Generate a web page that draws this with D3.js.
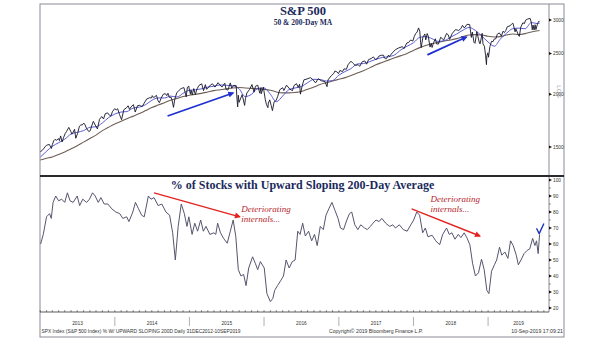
<!DOCTYPE html>
<html>
<head>
<meta charset="utf-8">
<script src="https://cdn.jsdelivr.net/npm/d3@7"></script>
<style>
  html, body { margin: 0; padding: 0; background: #fff; }
  svg { display: block; }
</style>
</head>
<body>
<svg id="chart" width="605" height="341"></svg>
<script>
// ---- S&P 500 closing levels (date, close) ----
const spxClose = [
  ["2013-01-02",1462],["2013-01-11",1472],["2013-01-18",1486],["2013-01-25",1503],["2013-02-01",1513],["2013-02-08",1518],
  ["2013-02-15",1520],["2013-02-25",1488],["2013-03-01",1518],["2013-03-08",1551],["2013-03-14",1563],["2013-03-22",1556],
  ["2013-04-02",1570],["2013-04-05",1553],["2013-04-11",1593],["2013-04-18",1541],["2013-04-26",1582],["2013-05-03",1614],
  ["2013-05-10",1633],["2013-05-21",1669],["2013-05-31",1631],["2013-06-05",1608],["2013-06-11",1626],["2013-06-18",1652],
  ["2013-06-24",1573],["2013-07-03",1615],["2013-07-12",1680],["2013-07-19",1692],["2013-07-26",1692],["2013-08-02",1709],
  ["2013-08-09",1691],["2013-08-15",1661],["2013-08-27",1631],["2013-09-03",1640],["2013-09-10",1683],["2013-09-18",1725],
  ["2013-09-27",1691],["2013-10-08",1655],["2013-10-18",1744],["2013-10-29",1771],["2013-11-07",1748],["2013-11-15",1798],
  ["2013-11-27",1807],["2013-12-05",1785],["2013-12-13",1775],["2013-12-20",1818],["2013-12-31",1848],
  ["2014-01-08",1837],["2014-01-15",1848],["2014-01-24",1790],["2014-02-03",1741],["2014-02-14",1838],["2014-02-28",1859],
  ["2014-03-07",1878],["2014-03-14",1841],["2014-03-21",1866],["2014-04-02",1890],["2014-04-11",1815],["2014-04-22",1879],
  ["2014-05-01",1883],["2014-05-07",1878],["2014-05-15",1870],["2014-05-23",1900],["2014-06-06",1949],["2014-06-20",1962],
  ["2014-06-30",1960],["2014-07-03",1985],["2014-07-10",1964],["2014-07-24",1988],["2014-07-31",1931],["2014-08-07",1910],
  ["2014-08-15",1955],["2014-08-26",2000],["2014-09-05",2007],["2014-09-12",1985],["2014-09-18",2011],["2014-09-25",1966],
  ["2014-10-03",1968],["2014-10-09",1928],["2014-10-15",1862],["2014-10-21",1941],["2014-10-31",2018],["2014-11-07",2032],
  ["2014-11-21",2064],["2014-11-28",2068],["2014-12-05",2075],["2014-12-16",1972],["2014-12-22",2078],["2014-12-29",2090],
  ["2014-12-31",2059],
  ["2015-01-06",2002],["2015-01-09",2045],["2015-01-15",1992],["2015-01-22",2063],["2015-01-30",1995],["2015-02-06",2055],
  ["2015-02-17",2100],["2015-03-02",2117],["2015-03-11",2040],["2015-03-20",2108],["2015-03-26",2056],["2015-04-06",2080],
  ["2015-04-15",2106],["2015-04-24",2117],["2015-05-06",2080],["2015-05-21",2131],["2015-05-29",2107],["2015-06-09",2080],
  ["2015-06-23",2124],["2015-06-29",2057],["2015-07-08",2046],["2015-07-20",2128],["2015-07-27",2068],["2015-08-05",2100],
  ["2015-08-18",2096],["2015-08-21",1971],["2015-08-24",1893],["2015-08-25",1867],["2015-08-28",1989],["2015-09-01",1914],
  ["2015-09-16",1996],["2015-09-28",1882],["2015-10-02",1951],["2015-10-09",2014],["2015-10-22",2053],["2015-11-03",2109],
  ["2015-11-13",2023],["2015-11-20",2089],["2015-12-01",2102],["2015-12-11",2012],["2015-12-17",2073],["2015-12-18",2005],
  ["2015-12-29",2078],["2015-12-31",2044],
  ["2016-01-07",1943],["2016-01-13",1890],["2016-01-20",1859],["2016-01-22",1906],["2016-01-29",1940],["2016-02-05",1880],
  ["2016-02-11",1829],["2016-02-19",1917],["2016-02-29",1932],["2016-03-08",1979],["2016-03-18",2050],["2016-04-01",2073],
  ["2016-04-07",2041],["2016-04-20",2102],["2016-05-06",2057],["2016-05-19",2040],["2016-05-27",2099],["2016-06-08",2119],
  ["2016-06-16",2077],["2016-06-23",2113],["2016-06-27",2001],["2016-07-05",2089],["2016-07-14",2164],["2016-07-29",2174],
  ["2016-08-15",2190],["2016-08-26",2169],["2016-09-09",2128],["2016-09-22",2177],["2016-10-07",2153],["2016-10-25",2143],
  ["2016-11-04",2085],["2016-11-09",2163],["2016-11-25",2214],["2016-12-07",2241],["2016-12-13",2271],["2016-12-22",2261],
  ["2016-12-30",2239],
  ["2017-01-06",2277],["2017-01-19",2264],["2017-01-26",2297],["2017-02-07",2293],["2017-02-15",2350],["2017-03-01",2396],
  ["2017-03-10",2372],["2017-03-21",2344],["2017-03-27",2342],["2017-04-05",2352],["2017-04-13",2329],["2017-04-25",2388],
  ["2017-05-08",2399],["2017-05-17",2357],["2017-05-26",2416],["2017-06-09",2432],["2017-06-19",2453],["2017-06-29",2419],
  ["2017-07-07",2425],["2017-07-14",2459],["2017-07-27",2475],["2017-08-08",2475],["2017-08-11",2441],["2017-08-17",2430],
  ["2017-08-21",2428],["2017-09-01",2476],["2017-09-05",2457],["2017-09-19",2506],["2017-10-05",2552],["2017-10-20",2575],
  ["2017-11-08",2594],["2017-11-15",2565],["2017-11-30",2648],["2017-12-08",2652],["2017-12-18",2690],["2017-12-29",2674],
  ["2018-01-05",2743],["2018-01-12",2786],["2018-01-19",2810],["2018-01-26",2873],["2018-02-01",2822],["2018-02-05",2649],
  ["2018-02-08",2581],["2018-02-16",2732],["2018-02-26",2780],["2018-03-02",2691],["2018-03-09",2786],["2018-03-14",2750],
  ["2018-03-23",2588],["2018-03-29",2641],["2018-04-02",2582],["2018-04-10",2656],["2018-04-18",2708],["2018-04-24",2634],
  ["2018-05-03",2630],["2018-05-14",2730],["2018-05-29",2690],["2018-06-12",2787],["2018-06-20",2767],["2018-06-27",2699],
  ["2018-07-09",2784],["2018-07-25",2846],["2018-08-03",2840],["2018-08-10",2833],["2018-08-21",2863],["2018-08-29",2914],
  ["2018-09-07",2872],["2018-09-20",2931],["2018-10-03",2925],["2018-10-11",2728],["2018-10-16",2809],["2018-10-24",2656],
  ["2018-10-29",2641],["2018-11-07",2814],["2018-11-20",2641],["2018-11-23",2633],["2018-12-03",2790],["2018-12-07",2633],
  ["2018-12-14",2600],["2018-12-20",2467],["2018-12-24",2351],["2018-12-26",2468],["2018-12-31",2507],
  ["2019-01-03",2448],["2019-01-10",2597],["2019-01-18",2671],["2019-01-25",2665],["2019-01-31",2704],["2019-02-08",2708],
  ["2019-02-15",2776],["2019-02-25",2796],["2019-03-07",2749],["2019-03-15",2822],["2019-03-22",2801],["2019-03-29",2834],
  ["2019-04-05",2893],["2019-04-18",2905],["2019-04-30",2946],["2019-05-03",2946],["2019-05-13",2812],["2019-05-17",2860],
  ["2019-05-31",2752],["2019-06-03",2744],["2019-06-10",2886],["2019-06-20",2954],["2019-06-28",2942],["2019-07-03",2996],
  ["2019-07-12",3014],["2019-07-26",3026],["2019-08-01",2954],["2019-08-05",2845],["2019-08-09",2919],["2019-08-14",2840],
  ["2019-08-19",2924],["2019-08-23",2847],["2019-08-30",2927],["2019-09-05",2977],["2019-09-10",2979]
];

// ---- 50-day moving average (monthly readings) ----
const spxMa50 = [
  ["2013-01-02",1420],["2013-02-01",1465],["2013-03-01",1505],["2013-04-01",1535],["2013-05-01",1565],["2013-06-01",1610],
  ["2013-07-01",1625],["2013-08-01",1640],["2013-09-01",1670],["2013-10-01",1675],["2013-11-01",1710],["2013-12-01",1760],
  ["2014-01-01",1795],["2014-02-01",1815],["2014-03-01",1820],["2014-04-01",1855],["2014-05-01",1865],["2014-06-01",1890],
  ["2014-07-01",1935],["2014-08-01",1960],["2014-09-01",1960],["2014-10-01",1980],["2014-11-01",1970],["2014-12-01",2010],
  ["2015-01-01",2045],["2015-02-01",2050],["2015-03-01",2060],["2015-04-01",2080],["2015-05-01",2090],["2015-06-01",2105],
  ["2015-07-01",2100],["2015-08-01",2095],["2015-09-01",2060],["2015-10-01",1975],["2015-11-01",2000],["2015-12-01",2065],
  ["2016-01-01",2070],["2016-02-01",2000],["2016-03-01",1920],["2016-04-01",1980],["2016-05-01",2050],["2016-06-01",2070],
  ["2016-07-01",2085],["2016-08-01",2130],["2016-09-01",2170],["2016-10-01",2168],["2016-11-01",2150],["2016-12-01",2155],
  ["2017-01-01",2220],["2017-02-01",2265],["2017-03-01",2300],["2017-04-01",2360],["2017-05-01",2365],["2017-06-01",2390],
  ["2017-07-01",2420],["2017-08-01",2445],["2017-09-01",2455],["2017-10-01",2480],["2017-11-01",2550],["2017-12-01",2600],
  ["2018-01-01",2650],["2018-02-01",2730],["2018-03-01",2740],["2018-04-01",2710],["2018-05-01",2670],["2018-06-01",2680],
  ["2018-07-01",2730],["2018-08-01",2780],["2018-09-01",2840],["2018-10-01",2880],["2018-11-01",2830],["2018-12-01",2750],
  ["2019-01-01",2660],["2019-02-01",2600],["2019-03-01",2700],["2019-04-01",2790],["2019-05-01",2860],["2019-06-01",2870],
  ["2019-07-01",2860],["2019-08-01",2960],["2019-09-01",2940],["2019-09-10",2950]
];

// ---- 200-day moving average (monthly readings) ----
const spxMa200 = [
  ["2013-01-02",1397],["2013-02-01",1410],["2013-03-01",1420],["2013-04-01",1440],["2013-05-01",1460],["2013-06-01",1485],
  ["2013-07-01",1510],["2013-08-01",1540],["2013-09-01",1570],["2013-10-01",1600],["2013-11-01",1640],["2013-12-01",1670],
  ["2014-01-01",1700],["2014-02-01",1725],["2014-03-01",1750],["2014-04-01",1775],["2014-05-01",1800],["2014-06-01",1830],
  ["2014-07-01",1860],["2014-08-01",1885],["2014-09-01",1910],["2014-10-01",1935],["2014-11-01",1955],["2014-12-01",1975],
  ["2015-01-01",1990],["2015-02-01",2000],["2015-03-01",2010],["2015-04-01",2025],["2015-05-01",2040],["2015-06-01",2050],
  ["2015-07-01",2060],["2015-08-01",2070],["2015-09-01",2075],["2015-10-01",2070],["2015-11-01",2065],["2015-12-01",2060],
  ["2016-01-01",2055],["2016-02-01",2045],["2016-03-01",2025],["2016-04-01",2015],["2016-05-01",2015],["2016-06-01",2020],
  ["2016-07-01",2030],["2016-08-01",2055],["2016-09-01",2080],["2016-10-01",2110],["2016-11-01",2130],["2016-12-01",2150],
  ["2017-01-01",2170],["2017-02-01",2190],["2017-03-01",2215],["2017-04-01",2245],["2017-05-01",2275],["2017-06-01",2310],
  ["2017-07-01",2350],["2017-08-01",2380],["2017-09-01",2410],["2017-10-01",2440],["2017-11-01",2470],["2017-12-01",2500],
  ["2018-01-01",2540],["2018-02-01",2580],["2018-03-01",2610],["2018-04-01",2635],["2018-05-01",2655],["2018-06-01",2675],
  ["2018-07-01",2690],["2018-08-01",2710],["2018-09-01",2740],["2018-10-01",2765],["2018-11-01",2770],["2018-12-01",2765],
  ["2019-01-01",2745],["2019-02-01",2735],["2019-03-01",2740],["2019-04-01",2765],["2019-05-01",2780],["2019-06-01",2770],
  ["2019-07-01",2785],["2019-08-01",2810],["2019-09-10",2832]
];

// ---- % of S&P 500 members with an upward sloping 200-day average ----
const pctUpward = [
  ["2013-01-03",60],["2013-01-16",66],["2013-02-01",77],["2013-02-16",79],["2013-02-24",76],["2013-03-05",86],
  ["2013-03-18",90],["2013-04-01",87],["2013-04-16",88],["2013-05-01",86],["2013-05-14",92],["2013-05-27",87],
  ["2013-06-11",86],["2013-07-01",90],["2013-07-13",84],["2013-07-28",88],["2013-08-16",86],["2013-08-30",88],
  ["2013-09-14",92],["2013-09-27",90],["2013-10-12",86],["2013-10-25",89],["2013-11-10",85],["2013-11-28",85],
  ["2013-12-17",82],["2014-01-06",80],["2014-01-25",79],["2014-02-09",76],["2014-02-28",77],["2014-03-11",74],
  ["2014-03-30",80],["2014-04-12",86],["2014-04-27",82],["2014-05-12",78],["2014-05-25",77],["2014-06-14",90],
  ["2014-06-27",88],["2014-07-12",89],["2014-08-01",84],["2014-08-19",85],["2014-09-08",80],["2014-09-26",78],
  ["2014-10-11",67],["2014-10-24",50],["2014-11-07",71],["2014-11-22",85],["2014-12-07",79],["2014-12-20",71],
  ["2014-12-29",77],["2015-01-14",66],["2015-01-27",73],["2015-02-10",68],["2015-02-25",75],["2015-03-10",68],
  ["2015-03-23",71],["2015-04-11",66],["2015-05-01",67],["2015-05-10",66],["2015-05-19",73],["2015-06-02",67],
  ["2015-06-17",63.5],["2015-07-05",60.5],["2015-07-20",68],["2015-08-03",75],["2015-08-16",64.5],["2015-08-28",44],
  ["2015-09-10",40],["2015-09-23",41],["2015-10-05",34],["2015-10-18",45],["2015-11-06",52],["2015-11-19",48],
  ["2015-12-01",44],["2015-12-14",49],["2016-01-02",45],["2016-01-15",29],["2016-02-01",24],["2016-02-13",26],
  ["2016-02-22",31],["2016-03-07",34],["2016-03-22",37],["2016-04-05",40],["2016-04-18",50],["2016-05-03",45],
  ["2016-05-18",49],["2016-06-01",50],["2016-06-14",68],["2016-06-25",66],["2016-07-08",73],["2016-07-21",65],
  ["2016-08-06",68],["2016-08-21",62],["2016-09-04",66],["2016-09-17",59],["2016-10-02",71],["2016-10-17",69],
  ["2016-10-30",78],["2016-11-13",82],["2016-11-28",86],["2016-12-13",81],["2016-12-28",76],["2017-01-09",70],
  ["2017-01-24",69],["2017-02-09",75],["2017-02-22",79],["2017-03-05",80],["2017-03-20",72],["2017-04-04",69],
  ["2017-04-18",72],["2017-05-07",70],["2017-05-20",69],["2017-06-04",71],["2017-06-17",73],["2017-07-02",75],
  ["2017-07-17",74],["2017-07-30",76],["2017-08-18",73],["2017-09-07",71],["2017-09-22",72],["2017-10-05",70],
  ["2017-10-24",72],["2017-11-12",69],["2017-12-01",68],["2017-12-19",72],["2018-01-02",75],["2018-01-17",80],
  ["2018-01-31",78],["2018-02-15",67],["2018-02-28",70],["2018-03-13",64.5],["2018-04-02",65.5],["2018-04-20",62],
  ["2018-05-09",59.5],["2018-05-24",66],["2018-06-12",70],["2018-06-25",66],["2018-07-08",67],["2018-07-23",63],
  ["2018-08-08",66],["2018-08-21",64],["2018-09-06",67],["2018-09-19",64],["2018-10-04",59.5],["2018-10-17",48],
  ["2018-10-31",40],["2018-11-15",42],["2018-11-30",50.5],["2018-12-13",44],["2018-12-26",31],["2019-01-05",29],
  ["2019-01-18",43],["2019-02-01",47],["2019-02-12",50],["2019-02-26",58],["2019-03-09",53],["2019-03-24",55],
  ["2019-04-08",51],["2019-04-21",62],["2019-05-04",59],["2019-05-19",53],["2019-05-29",47],["2019-06-11",50],
  ["2019-06-26",54],["2019-07-11",56],["2019-07-24",57],["2019-08-07",63.5],["2019-08-18",59],["2019-08-26",62],
  ["2019-09-03",54],["2019-09-10",66]
];

// ---- axis ticks ----
const spxTicks = [1500, 2000, 2500, 3000];
const pctTicks = [20, 30, 40, 50, 60, 70, 80, 90, 100];
const yearLabels = ["2013", "2014", "2015", "2016", "2017", "2018", "2019"];

const parse = d3.timeParse("%Y-%m-%d");

const svg = d3.select("#chart");

// frame geometry
const L = 40, R = 564, PR = 549, T = 4, B = 337;
const SPLIT = 176, AXIS_Y = 312;

const x = d3.scaleTime()
  .domain([parse("2012-12-31"), parse("2019-10-26")])
  .range([L, PR]);
const yTop = d3.scaleLog().domain([1280, 3274]).range([SPLIT, T]);
const yBot = d3.scaleLinear().domain([17.5, 102.5]).range([AXIS_Y, SPLIT]);

// clip paths for the panels
const defs = svg.append("defs");
defs.append("clipPath").attr("id", "clipTop")
  .append("rect").attr("x", L).attr("y", T).attr("width", PR - L).attr("height", SPLIT - T);
defs.append("clipPath").attr("id", "clipBot")
  .append("rect").attr("x", L).attr("y", SPLIT).attr("width", PR - L).attr("height", AXIS_Y - SPLIT);

function arrowMarker(id, color, w, h) {
  defs.append("marker").attr("id", id)
    .attr("viewBox", "0 0 10 10").attr("refX", 8).attr("refY", 5)
    .attr("markerWidth", w).attr("markerHeight", h).attr("orient", "auto")
    .attr("markerUnits", "userSpaceOnUse")
    .append("path").attr("d", "M0,0 L10,5 L0,10 z").attr("fill", color);
}
arrowMarker("arrowBlue", "#1f2fd0", 7, 6);
arrowMarker("arrowRed", "#e3231f", 7, 6);

// frame
svg.append("rect").attr("x", L).attr("y", T).attr("width", R - L).attr("height", B - T)
  .attr("fill", "#fff").attr("stroke", "#8a8a96").attr("stroke-width", 1);

// right axis line
svg.append("line").attr("x1", PR).attr("x2", PR).attr("y1", T).attr("y2", AXIS_Y)
  .attr("stroke", "#8a8a96").attr("stroke-width", 1);

// ---- top panel: S&P 500 with moving averages ----
const lineTop = d3.line().x(d => x(parse(d[0]))).y(d => yTop(d[1]));
const gTop = svg.append("g").attr("clip-path", "url(#clipTop)");

gTop.append("path").datum(spxMa200)
  .attr("d", lineTop.curve(d3.curveMonotoneX))
  .attr("fill", "none").attr("stroke", "#6e5e55").attr("stroke-width", 1.1);
gTop.append("path").datum(spxMa50)
  .attr("d", lineTop.curve(d3.curveMonotoneX))
  .attr("fill", "none").attr("stroke", "#4a4ad0").attr("stroke-width", 0.9);
gTop.append("path").datum(spxClose)
  .attr("d", lineTop.curve(d3.curveLinear))
  .attr("fill", "none").attr("stroke", "#15152a").attr("stroke-width", 0.9);

// ---- bottom panel: breadth line ----
const lineBot = d3.line().x(d => x(parse(d[0]))).y(d => yBot(d[1]));
svg.append("g").attr("clip-path", "url(#clipBot)")
  .append("path").datum(pctUpward)
  .attr("d", lineBot)
  .attr("fill", "none").attr("stroke", "#55556e").attr("stroke-width", 1);

// panel separator
svg.append("line").attr("x1", L).attr("x2", R).attr("y1", SPLIT).attr("y2", SPLIT)
  .attr("stroke", "#2a2a2e").attr("stroke-width", 2);

// ---- right-hand value axes ----
const tickFont = "'Liberation Sans', Arial, sans-serif";
function rightAxis(scale, ticks, minor) {
  const g = svg.append("g");
  g.selectAll("path.tk").data(ticks).join("path")
    .attr("d", d => `M${PR},${scale(d) - 1.5} L${PR + 3},${scale(d)} L${PR},${scale(d) + 1.5} z`)
    .attr("fill", "#111");
  g.selectAll("text").data(ticks).join("text")
    .attr("x", PR + 4).attr("y", d => scale(d) + 1.7)
    .attr("font-family", tickFont).attr("font-size", 4.8).attr("fill", "#333")
    .text(d => d);
  if (minor) {
    g.selectAll("line.mn").data(minor).join("line")
      .attr("x1", PR).attr("x2", PR + 1.6)
      .attr("y1", d => scale(d)).attr("y2", d => scale(d))
      .attr("stroke", "#222").attr("stroke-width", 0.6);
  }
}
rightAxis(yTop, spxTicks, null);
rightAxis(yBot, pctTicks, d3.range(25, 100, 10));

// rotated scale-type marker beside the price axis
svg.append("text")
  .attr("transform", `translate(${PR + 8},${yTop(2100)}) rotate(90)`)
  .attr("font-family", tickFont).attr("font-size", 6).attr("fill", "#9a9aa4")
  .text("LOG");

// ---- bottom time axis ----
svg.append("line").attr("x1", L).attr("x2", PR).attr("y1", AXIS_Y).attr("y2", AXIS_Y)
  .attr("stroke", "#333").attr("stroke-width", 0.8);
const months = d3.timeMonth.range(parse("2013-01-01"), parse("2019-10-26"));
svg.append("g").selectAll("line").data(months).join("line")
  .attr("x1", d => x(d)).attr("x2", d => x(d))
  .attr("y1", AXIS_Y - 1.8).attr("y2", AXIS_Y)
  .attr("stroke", "#333").attr("stroke-width", 0.6);

const yearStarts = yearLabels.map(y => parse(y + "-01-01"));
svg.append("g").selectAll("line").data(yearStarts.slice(1)).join("line")
  .attr("x1", d => x(d)).attr("x2", d => x(d))
  .attr("y1", 317).attr("y2", 326)
  .attr("stroke", "#9a9aa6").attr("stroke-width", 0.8);
svg.append("g").selectAll("text").data(yearLabels).join("text")
  .attr("x", (d, i) => {
    const a = Math.max(L, x(yearStarts[i]));
    const b = Math.min(PR, x(parse((+d + 1) + "-01-01")));
    return (a + b) / 2;
  })
  .attr("y", 324.5).attr("text-anchor", "middle")
  .attr("font-family", tickFont).attr("font-size", 4.8).attr("fill", "#333")
  .text(d => d);

// footer
const foot = svg.append("g").attr("font-family", tickFont).attr("font-size", 5.2).attr("fill", "#333");
foot.append("text").attr("x", 41.5).attr("y", 333)
  .attr("textLength", 199).attr("lengthAdjust", "spacingAndGlyphs")
  .text("SPX Index (S&P 500 Index) % W/ UPWARD SLOPING 200D  Daily 31DEC2012-10SEP2019");
foot.append("text").attr("x", 329).attr("y", 333)
  .attr("textLength", 94).attr("lengthAdjust", "spacingAndGlyphs")
  .text("Copyright© 2019 Bloomberg Finance L.P.");
foot.append("text").attr("x", 563).attr("y", 333).attr("text-anchor", "end")
  .text("10-Sep-2019 17:09:21");

// ---- titles ----
const serif = "'Liberation Serif', 'DejaVu Serif', serif";
svg.append("text").attr("x", 303).attr("y", 15).attr("text-anchor", "middle")
  .attr("font-family", serif).attr("font-weight", "bold").attr("font-size", 12.5)
  .attr("fill", "#1b2a5c").text("S&P 500");
svg.append("text").attr("x", 303).attr("y", 24.5).attr("text-anchor", "middle")
  .attr("font-family", serif).attr("font-weight", "bold").attr("font-size", 7.5)
  .attr("fill", "#1b2a5c").text("50 & 200-Day MA");
svg.append("text").attr("x", 302.5).attr("y", 189).attr("text-anchor", "middle")
  .attr("font-family", serif).attr("font-weight", "bold").attr("font-size", 12)
  .attr("fill", "#1b2a5c").text("% of Stocks with Upward Sloping 200-Day Average");

// ---- annotations ----
const blueArrows = [
  [["2014-09-16", 1776], ["2015-08-03", 2014]],
  [["2018-03-10", 2479], ["2018-09-17", 2734]]
];
svg.append("g").selectAll("line").data(blueArrows).join("line")
  .attr("x1", d => x(parse(d[0][0]))).attr("y1", d => yTop(d[0][1]))
  .attr("x2", d => x(parse(d[1][0]))).attr("y2", d => yTop(d[1][1]))
  .attr("stroke", "#1f2fd0").attr("stroke-width", 1.8)
  .attr("marker-end", "url(#arrowBlue)");

const redArrows = [
  [["2014-07-12", 92], ["2015-09-04", 77]],
  [["2017-12-23", 82], ["2018-11-22", 65]]
];
svg.append("g").selectAll("line").data(redArrows).join("line")
  .attr("x1", d => x(parse(d[0][0]))).attr("y1", d => yBot(d[0][1]))
  .attr("x2", d => x(parse(d[1][0]))).attr("y2", d => yBot(d[1][1]))
  .attr("stroke", "#e3231f").attr("stroke-width", 1.4)
  .attr("marker-end", "url(#arrowRed)");

const notes = [
  { date: "2015-09-12", value: 80, lines: ["Deteriorating", "internals..."] },
  { date: "2018-03-25", value: 86, lines: ["Deteriorating", "internals..."] }
];
notes.forEach(n => {
  const t = svg.append("text")
    .attr("x", x(parse(n.date))).attr("y", yBot(n.value))
    .attr("font-family", serif).attr("font-style", "italic").attr("font-size", 9)
    .attr("fill", "#b5262a");
  n.lines.forEach((s, i) => t.append("tspan")
    .attr("x", x(parse(n.date))).attr("dy", i ? 9.5 : 0).text(s));
});

// check mark by the latest reading
const checkPts = [["2019-08-27", 69.5], ["2019-09-08", 66.5], ["2019-09-30", 72.5]];
svg.append("path")
  .attr("d", d3.line().x(d => x(parse(d[0]))).y(d => yBot(d[1]))(checkPts))
  .attr("fill", "none").attr("stroke", "#1c35b8").attr("stroke-width", 1.4)
  .attr("stroke-linejoin", "round").attr("stroke-linecap", "round");
</script>
</body>
</html>
